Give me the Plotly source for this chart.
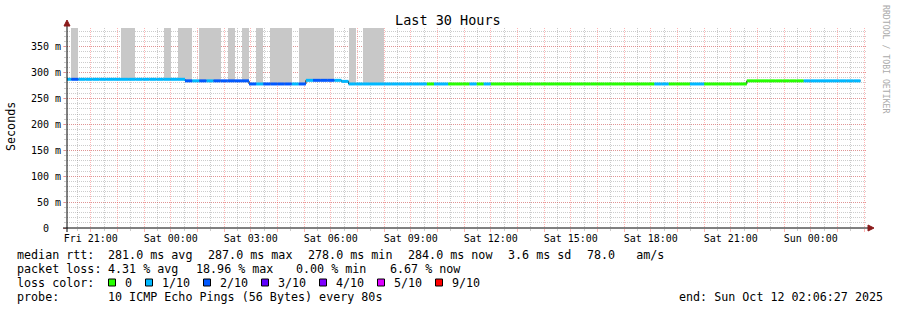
import plotly.graph_objects as go
from datetime import datetime, timedelta

# ---------------- data ----------------
BIN_START = datetime(2025, 10, 10, 20, 0, 0)   # first 16-minute bin
BIN_SECONDS = 960
RANGE_START = datetime(2025, 10, 10, 20, 6, 27)
RANGE_END = datetime(2025, 10, 12, 2, 6, 27)

# median rtt per bin (seconds)
median_rtt = [
    0.287, 0.287, 0.287, 0.287, 0.287, 0.287, 0.287, 0.287, 0.287, 0.287,
    0.287, 0.287, 0.287, 0.287, 0.287, 0.287, 0.287, 0.284, 0.284, 0.284,
    0.284, 0.284, 0.284, 0.284, 0.284, 0.284, 0.278, 0.278, 0.278, 0.278,
    0.278, 0.278, 0.278, 0.278, 0.285, 0.285, 0.285, 0.285, 0.285, 0.283,
    0.278, 0.278, 0.278, 0.278, 0.278, 0.278, 0.278, 0.278, 0.278, 0.278,
    0.278, 0.278, 0.278, 0.278, 0.278, 0.278, 0.278, 0.278, 0.278, 0.278,
    0.278, 0.278, 0.278, 0.278, 0.278, 0.278, 0.278, 0.278, 0.278, 0.278,
    0.278, 0.278, 0.278, 0.278, 0.278, 0.278, 0.278, 0.278, 0.278, 0.278,
    0.278, 0.278, 0.278, 0.278, 0.278, 0.278, 0.278, 0.278, 0.278, 0.278,
    0.278, 0.278, 0.278, 0.278, 0.278, 0.278, 0.284, 0.284, 0.284, 0.284,
    0.284, 0.284, 0.284, 0.284, 0.284, 0.284, 0.284, 0.284, 0.284, 0.284,
    0.284, 0.284,
]
# lost pings (of 10) per bin
loss = [
    1, 2, 1, 1, 1, 1, 1, 1, 1, 1,
    1, 1, 1, 1, 1, 1, 1, 2, 1, 2,
    1, 2, 2, 2, 2, 2, 2, 1, 2, 2,
    2, 2, 1, 2, 1, 2, 2, 2, 1, 1,
    1, 1, 1, 1, 1, 1, 1, 1, 1, 1,
    1, 0, 1, 1, 0, 0, 0, 1, 0, 1,
    0, 0, 0, 0, 0, 0, 0, 0, 0, 0,
    0, 0, 0, 0, 0, 0, 0, 0, 0, 0,
    0, 0, 0, 1, 1, 0, 0, 0, 1, 1,
    0, 0, 0, 0, 0, 0, 0, 0, 0, 0,
    0, 0, 0, 0, 1, 1, 1, 1, 1, 1,
    1, 1,
]
# bins with visible smoke and their (clipped) max rtt
smoke_bins = [1, 8, 9, 14, 16, 17, 19, 20, 21, 23, 25, 27, 29, 30, 31,
              33, 34, 35, 36, 37, 40, 42, 43, 44]
smoke_max = [0.40, 0.40, 0.40, 0.40, 0.40, 0.40, 0.40, 0.40,
             0.40, 0.40, 0.40, 0.40, 0.40, 0.40, 0.40, 0.40,
             0.40, 0.40, 0.40, 0.40, 0.40, 0.40, 0.40, 0.40]

loss_levels = [0, 1, 2, 3, 4, 5, 9]
loss_labels = ["0", "1/10", "2/10", "3/10", "4/10", "5/10", "9/10"]
loss_colors = ["#26ff00", "#00b8ff", "#0059ff", "#5e00ff", "#7e00ff", "#dd00ff", "#ff0000"]

y_tickvals = [0, 0.05, 0.10, 0.15, 0.20, 0.25, 0.30, 0.35]
y_ticktext = ["0\u00a0\u00a0", "50 m", "100 m", "150 m", "200 m", "250 m", "300 m", "350 m"]

stats_rtt = ["281.0 ms avg", "287.0 ms max", "278.0 ms min", "284.0 ms now",
             "3.6 ms sd", "78.0\u00a0\u00a0\u00a0am/s"]
stats_loss = ["4.31 % avg", "18.96 % max", "0.00 % min", "6.67 % now"]
probe_text = "10 ICMP Echo Pings (56 Bytes) every 80s"
end_text = "end: Sun Oct 12 02:06:27 2025"
title_text = "Last 30 Hours"

# ---------------- helpers ----------------
W, H = 897, 310
PL, PR, PT, PB = 67, 867, 28, 228


def px(x):
    return (x - PL) / (PR - PL)


def py(y):
    return (PB - y) / (PB - PT)


def bin_t(k):
    return BIN_START + timedelta(seconds=BIN_SECONDS * k)


FONT = "DejaVu Sans Mono"
fig = go.Figure()

# smoke
fig.add_trace(go.Bar(
    x=[bin_t(k) + timedelta(seconds=BIN_SECONDS / 2) for k in smoke_bins],
    base=[median_rtt[k] for k in smoke_bins],
    y=[m - median_rtt[k] for k, m in zip(smoke_bins, smoke_max)],
    width=[BIN_SECONDS * 1000] * len(smoke_bins),
    marker=dict(color="#c8c8c8", line=dict(width=0)),
    showlegend=False, hoverinfo="skip",
))

# black step outline of the median
xs = [bin_t(k) for k in range(len(median_rtt))] + [bin_t(len(median_rtt))]
ys = median_rtt + [median_rtt[-1]]
fig.add_trace(go.Scatter(x=xs, y=ys, mode="lines", line=dict(color="#000000", width=1, shape="hv"),
                         showlegend=False, hoverinfo="skip"))

# coloured median segments by loss
for lvl, col in zip(loss_levels, loss_colors):
    sx, sy = [], []
    for k, (m, l) in enumerate(zip(median_rtt, loss)):
        if l == lvl:
            sx += [bin_t(k), bin_t(k + 1), None]
            sy += [m, m, None]
    if sx:
        fig.add_trace(go.Scatter(x=sx, y=sy, mode="lines", line=dict(color=col, width=3),
                                 showlegend=False, hoverinfo="skip"))

# axes
hour_ticks = [datetime(2025, 10, 10, 21) + timedelta(hours=h) for h in range(30)]
hour_text = [t.strftime("%a %H:%M") if t.hour % 3 == 0 else "" for t in hour_ticks]
half_ticks = [datetime(2025, 10, 10, 20, 30) + timedelta(hours=h) for h in range(30)]

RED = "rgba(255,60,60,0.38)"
GRAY = "rgba(120,120,120,0.38)"

fig.update_xaxes(
    type="date", range=[RANGE_START, RANGE_END],
    tickmode="array", tickvals=hour_ticks, ticktext=hour_text,
    showgrid=True, gridcolor=RED, griddash="1px,1px", gridwidth=1,
    ticks="outside", ticklen=3, tickcolor=RED, tickwidth=1,
    minor=dict(tickmode="array", tickvals=half_ticks, showgrid=True, gridcolor=GRAY,
               griddash="1px,1px", ticks="outside", ticklen=2, tickcolor=GRAY),
    tickfont=dict(family=FONT, size=10, color="#000"),
    ticklabelstandoff=-2,
    showline=False, zeroline=False, fixedrange=True,
)
fig.update_yaxes(
    range=[0, 0.386], tickmode="array", tickvals=y_tickvals, ticktext=y_ticktext,
    showgrid=True, gridcolor=RED, griddash="1px,1px", gridwidth=1,
    ticks="outside", ticklen=3, tickcolor=RED,
    minor=dict(dtick=0.01, tick0=0, showgrid=True, gridcolor=GRAY, griddash="1px,1px",
               ticks="outside", ticklen=2, tickcolor=GRAY),
    tickfont=dict(family=FONT, size=10, color="#000"),
    showline=False, zeroline=False, fixedrange=True,
)

shapes = [
    dict(type="line", xref="paper", yref="paper", x0=px(63), x1=px(870), y0=0, y1=0,
         line=dict(color="#000", width=1)),
    dict(type="line", xref="paper", yref="paper", x0=0, x1=0, y0=py(232), y1=py(24),
         line=dict(color="#000", width=1)),
    dict(type="path", xref="paper", yref="paper",
         path=f"M {px(868)},{py(225)} L {px(874)},{py(228)} L {px(868)},{py(231)} Z",
         fillcolor="#8b1a1a", line=dict(color="#8b1a1a", width=1)),
    dict(type="path", xref="paper", yref="paper",
         path=f"M {px(64)},{py(26)} L {px(67)},{py(20)} L {px(70)},{py(26)} Z",
         fillcolor="#8b1a1a", line=dict(color="#8b1a1a", width=1)),
]

annotations = []


def text(t, x, y, size=11.7, color="#000", anchor="left", angle=0):
    annotations.append(dict(text=t, x=px(x), y=py(y), xref="paper", yref="paper",
                            xanchor=anchor, yanchor="middle", showarrow=False,
                            textangle=angle, borderpad=0,
                            font=dict(family=FONT, size=size, color=color)))


text(title_text, 448, 20, size=13.5, anchor="center")
text("Seconds", 11, 126, anchor="center", angle=-90)
text("RRDTOOL / TOBI OETIKER", 886, 59, size=8.2, color="#aaaaaa", anchor="center", angle=90)

text("median rtt:", 16, 254.5)
for s, x in zip(stats_rtt, [107, 207, 307, 407, 507, 586]):
    text(s, x, 254.5)
text("packet loss:", 16, 268.5)
for s, x in zip(stats_loss, [107, 195, 295, 389]):
    text(s, x, 268.5)
text("loss color:", 16, 282.5)
box_x = [108.5, 145.5, 203.5, 261.5, 319.5, 377.5, 435.5]
for lbl, col, bx in zip(loss_labels, loss_colors, box_x):
    shapes.append(dict(type="rect", xref="paper", yref="paper",
                       x0=px(bx), x1=px(bx + 7), y0=py(286), y1=py(279),
                       fillcolor=col, line=dict(color="#000", width=1)))
    text(lbl, bx + 15, 282.5)
text("probe:", 16, 296.5)
text(probe_text, 107, 296.5)
text(end_text, 678, 296.5)

fig.update_layout(
    width=W, height=H, autosize=False,
    margin=dict(l=PL, r=W - PR, t=PT, b=H - PB, pad=0),
    paper_bgcolor="#ffffff", plot_bgcolor="#ffffff",
    shapes=shapes, annotations=annotations,
    bargap=0, showlegend=False,
)

fig.write_html("out.html", config={"displayModeBar": False})
